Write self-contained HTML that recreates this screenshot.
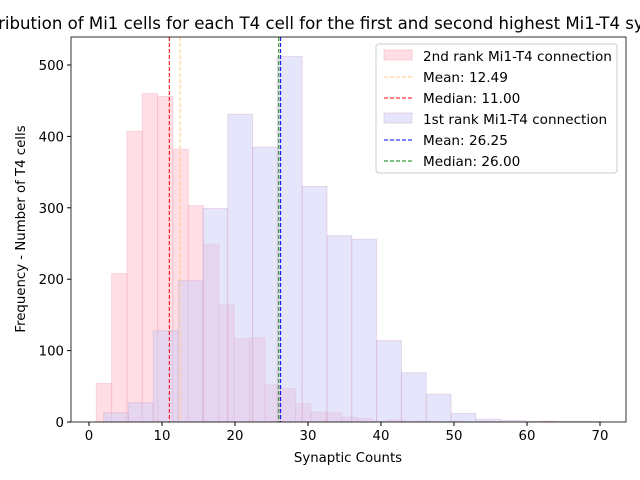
<!DOCTYPE html>
<html><head><meta charset="utf-8"><style>
body{margin:0;background:#fff;}
svg{display:block;font-family:"DejaVu Sans","Liberation Sans",sans-serif;}
</style></head><body>
<svg id="chart" width="640" height="480" viewBox="0 0 640 480" xmlns="http://www.w3.org/2000/svg">
<rect width="640" height="480" fill="#fff"/>
<text x="334" y="29" font-size="16.6" text-anchor="middle">Distribution of Mi1 cells for each T4 cell for the first and second highest Mi1-T4 synapses</text>
<g id="bars2"></g><g id="bars1"></g><g id="lines"></g><g id="axes"></g>
<g>
<rect x="376" y="44" width="241" height="129" rx="3" fill="#fff" fill-opacity="0.8" stroke="#ccc"/>
<rect x="384" y="50" width="28" height="10" fill="#ffc0cb" fill-opacity="0.5" stroke="#f0a0b0" stroke-opacity="0.4"/>
<text x="423" y="61" font-size="13.6">2nd rank Mi1-T4 connection</text>
<line x1="384" y1="77" x2="412" y2="77" stroke="#ffcc80" stroke-dasharray="4,2"/>
<text x="423" y="82" font-size="13.6">Mean: 12.49</text>
<line x1="384" y1="98" x2="412" y2="98" stroke="red" stroke-dasharray="4,2"/>
<text x="423" y="103" font-size="13.6">Median: 11.00</text>
<rect x="384" y="113" width="28" height="10" fill="#cbcbfa" fill-opacity="0.5" stroke="#d0a0c0" stroke-opacity="0.4"/>
<text x="423" y="124" font-size="13.6">1st rank Mi1-T4 connection</text>
<line x1="384" y1="140" x2="412" y2="140" stroke="blue" stroke-dasharray="4,2"/>
<text x="423" y="145" font-size="13.6">Mean: 26.25</text>
<line x1="384" y1="161" x2="412" y2="161" stroke="green" stroke-dasharray="4,2"/>
<text x="423" y="166" font-size="13.6">Median: 26.00</text>
</g>
</svg>
<script>
const pinkCounts=[54,208,407,460,456,382,303,249,164,117,118,52,47,26,14,13,7,5,1,3,1,1,0,1,0,1,0,0,0,1];
const pinkStart=1, pinkWidth=2.1;
const blueCounts=[13,27,128,198,299,431,385,512,330,261,256,114,69,39,12,4,2,1,1,1];
const blueStart=2, blueWidth=3.4;
const meanLines=[[12.49,'#ffcc80'],[11,'red'],[26.25,'blue'],[26,'green']];
const xTicks=[0,10,20,30,40,50,60,70];
const yTicks=[0,100,200,300,400,500];
const L=71,R=626,T=37,B=422;
const X=v=>89+v*7.3, Y=v=>422-v*0.714;
const NS='http://www.w3.org/2000/svg';
function mk(tag,at,parent){const e=document.createElementNS(NS,tag);for(const k in at)e.setAttribute(k,at[k]);document.getElementById(parent).appendChild(e);return e;}
pinkCounts.forEach((c,i)=>{const x0=X(pinkStart+i*pinkWidth),x1=X(pinkStart+(i+1)*pinkWidth);
const r=mk('rect',{x:x0,y:Y(c),width:x1-x0,height:B-Y(c),fill:'#ffc0cb','fill-opacity':0.5,stroke:'#f0a0b0','stroke-opacity':0.35},'bars2');

});
blueCounts.forEach((c,i)=>{const x0=X(blueStart+i*blueWidth),x1=X(blueStart+(i+1)*blueWidth);
const r=mk('rect',{x:x0,y:Y(c),width:x1-x0,height:B-Y(c),fill:'#cbcbfa','fill-opacity':0.5,stroke:'#d0a0c0','stroke-opacity':0.35},'bars1');

});
meanLines.forEach(([v,c])=>{const l=mk('line',{x1:X(v),x2:X(v),y1:T,y2:B,stroke:c,'stroke-dasharray':'4,2'},'lines');

});
const f=mk('rect',{x:L,y:T,width:R-L,height:B-T,fill:'none',stroke:'#000','stroke-width':0.8},'axes');


xTicks.forEach(v=>{mk('line',{x1:X(v),x2:X(v),y1:B,y2:B+4,stroke:'#000'},'axes');
const t=mk('text',{x:X(v),y:B+18,'font-size':13.3,'text-anchor':'middle'},'axes');t.textContent=v;

});
yTicks.forEach(v=>{mk('line',{x1:L-4,x2:L,y1:Y(v),y2:Y(v),stroke:'#000'},'axes');
const t=mk('text',{x:L-7,y:Y(v)+5,'font-size':13.3,'text-anchor':'end'},'axes');t.textContent=v;

});
const xt=mk('text',{x:348,y:462,'font-size':13.3,'text-anchor':'middle'},'axes');xt.textContent='Synaptic Counts';


const yt=mk('text',{x:25,y:229,'font-size':13.3,'text-anchor':'middle',transform:'rotate(-90 25 229)'},'axes');yt.textContent='Frequency - Number of T4 cells';


</script>
</body></html>
